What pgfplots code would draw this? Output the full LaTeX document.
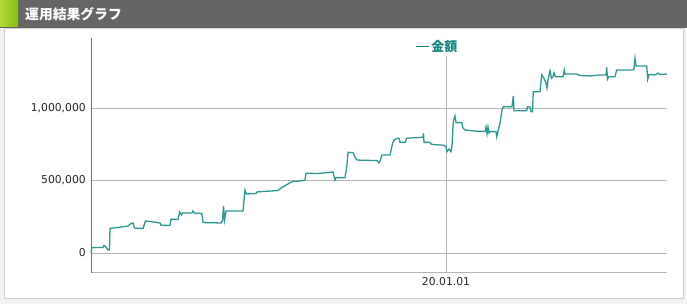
\documentclass[border=0pt]{standalone}
\usepackage{pgfplots}
\pgfplotsset{compat=1.18}
\usepackage{fontspec}
\setmainfont{DejaVu Sans}
\newfontfamily\jp{Noto Sans CJK JP}
\definecolor{hdr}{HTML}{666666}
\definecolor{lineteal}{HTML}{2C9892}
\definecolor{legteal}{HTML}{128482}
\definecolor{gridc}{HTML}{B4B4B4}
\definecolor{bordc}{HTML}{CFCFCF}
\definecolor{gA}{HTML}{B6DC3C}
\definecolor{gB}{HTML}{84BC12}
\begin{document}
\begin{tikzpicture}[x=1pt,y=1pt]
\useasboundingbox (0,0) rectangle (687,304);
\fill[white] (0,0) rectangle (687,304);
% panel
\fill[white!95!black] (0,0) rectangle (687,276);
\fill[white] (4,5) rectangle (683,276);
\draw[bordc, line width=1pt] (4,5) rectangle (683,275);
% header bar
\fill[hdr] (0,276) rectangle (687,304);
\shade[left color=gA, right color=gB] (0,277) rectangle (18,304);
\node[anchor=west, text=white, inner sep=0pt, font={\jp\bfseries\fontsize{13.8}{14}\selectfont}] at (25,289.5) {運用結果グラフ};
\begin{axis}[
  at={(91pt,31pt)}, anchor=south west,
  scale only axis, width=576pt, height=235pt,
  xmin=91, xmax=667,
  ymin=-137931, ymax=1482759,
  scaled y ticks=false, scaled x ticks=false,
  axis x line*=bottom, axis y line*=left,
  x axis line style={draw=gridc, line width=1pt, -},
  y axis line style={draw=black!55, line width=1pt, -},
  major tick length=0pt,
  xtick={446}, xticklabels={20.01.01},
  ytick={0,500000,1000000},
  yticklabels={0,{500,000},{1,000,000}},
  grid=major,
  major grid style={draw=gridc, line width=0.9pt},
  /pgf/number format/assume math mode=true,
  tick label style={font=\fontsize{10.8}{12}\selectfont, text=black!85},
  yticklabel style={inner sep=0pt, xshift=-5pt},
  xticklabel style={inner sep=0pt, yshift=-4pt},
  legend style={at={(0.6007,0.9638)}, anchor=center, draw=none, fill=white,
    inner sep=1pt, text=legteal, font={\jp\bfseries\fontsize{13}{14}\selectfont}},
  legend image code/.code={\draw[legteal, line width=1.6pt] (0pt,0pt) -- (13pt,0pt);},
  legend cell align=left,
  clip=false,
]
\addplot[lineteal, line width=1.3pt, no markers, sharp plot] table {
x y
91 0
91.5 21000
92 38000
103 38000
104 52000
106 41000
108 21000
109.5 21000
110 170000
118 176000
128 186000
131 203000
133 207000
134.5 172000
143 169000
145.5 221000
150 217000
160 207000
161 191000
170 190000
171 234000
178 231000
179.7 283000
181.5 262000
182.5 276000
192 276000
193 290000
195 272000
200 276000
202 269000
203 210000
221 207000
222.5 221000
223.5 324000
224.5 228000
226 290000
243 290000
245 434000
246.5 407000
256 410000
257 421000
278 431000
282 453000
288 476000
292 492000
303 499000
305 503000
306 550000
318 548000
333 559000
334 531000
335 503000
336 519000
345 519000
347 607000
348 694000
353 693000
355 662000
357 641000
377 637000
379 621000
380 634000
382 676000
390 676000
392.7 759000
394 779000
397 791000
399 791000
400 763000
405 763000
406.7 791000
415 795000
423 798000
423.5 826000
424 763000
430 763000
431 752000
433 748000
444 743000
446 731000
447 699000
449 717000
451 699000
452 738000
453.3 906000
455 945000
456 899000
461.7 899000
463 862000
465 848000
475 841000
485 838000
486 869000
487 821000
488 869000
489 828000
490 837000
496 837000
496.7 802000
498 841000
500 894000
502 986000
503.3 1009000
512 1009000
513.3 1083000
514 981000
526.7 981000
527.5 1009000
530 1007000
531 974000
532.5 974000
533.3 1112000
540 1112000
541.7 1228000
544 1205000
546 1172000
547 1138000
548 1193000
550 1257000
551.5 1205000
553 1214000
554 1243000
555.5 1216000
563 1216000
564.3 1262000
565 1234000
577 1234000
580 1224000
590 1221000
600 1228000
606 1228000
606.7 1281000
607.5 1200000
608.5 1216000
615 1216000
616.7 1262000
633 1262000
634 1269000
635 1343000
636 1290000
646.7 1290000
647.7 1198000
649 1231000
655 1228000
658 1241000
660 1231000
667 1234000
};
\addlegendentry{金額}
\end{axis}
\end{tikzpicture}
\end{document}
